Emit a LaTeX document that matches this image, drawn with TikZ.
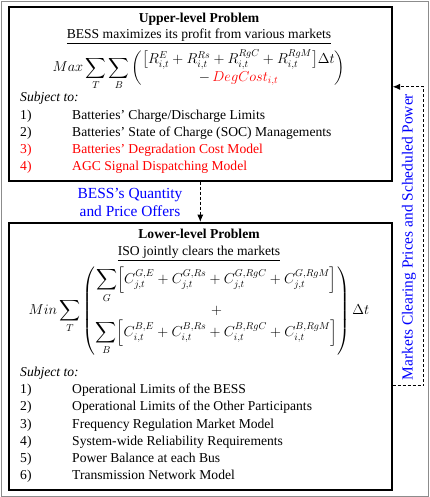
\documentclass[tikz,border=0pt]{standalone}
\usepackage{amsmath,amssymb}
\usepackage{xcolor}
\usepackage{fontspec}
\setmainfont{Liberation Serif}
\usepackage{tikz}
\usetikzlibrary{arrows.meta,positioning}
\definecolor{OfferBlue}{HTML}{0000FF}
\definecolor{DegRed}{HTML}{FF0000}
\definecolor{FrameGray}{HTML}{8C8C8C}

\begin{document}
\begin{tikzpicture}[
  x=1pt, y=-1pt,
  every node/.style={font=\fontsize{13.6}{17.2}\selectfont, inner sep=0pt},
  level/.style={draw=black, line width=1.6pt, minimum width=383pt, anchor=north west},
  title/.style={font=\fontsize{13.6}{17.2}\selectfont\bfseries, anchor=base},
  sub/.style={anchor=base},
  list/.style={anchor=base west, align=left},
  offer/.style={text=OfferBlue, align=center, font=\fontsize{15.4}{18}\selectfont},
  arrow/.style={-{Latex[length=2.6mm,width=2.2mm]}, line width=1.1pt, dash pattern=on 3pt off 2pt}
]
\useasboundingbox (0,0) rectangle (429,497);
\draw[FrameGray, line width=0.8pt] (1,1) rectangle (428,496);

\node[level, minimum height=174pt] (upper) at (8,6) {};
\node[level, minimum height=267pt] (lower) at (8,222) {};

% upper-level problem
\node[title] (uppertitle) at (199,22.5) {Upper-level Problem};
\node[sub] (uppersub) at (199,38.5) {\underline{BESS maximizes its profit from various markets}};
\node[font=\fontsize{14.3}{17}\selectfont] (upperobj) at (199,70) {$\displaystyle Max\sum_{T}\sum_{B}\left(\begin{array}{@{}c@{}}
  \bigl[R^{E}_{i,t}+R^{Rs}_{i,t}+R^{RgC}_{i,t}+R^{RgM}_{i,t}\bigr]\Delta t\\
  -\,\textcolor{DegRed}{DegCost_{i,t}}\end{array}\right)$};
\node[list] (upperlist) at (20,102) {\begin{tabular}[t]{@{}p{52pt}@{}l@{}}
  \multicolumn{2}{@{}l@{}}{\textit{Subject to:}}\\
  1) & Batteries' Charge/Discharge Limits\\
  2) & Batteries' State of Charge (SOC) Managements\\
  \textcolor{DegRed}{3)} & \textcolor{DegRed}{Batteries' Degradation Cost Model}\\
  \textcolor{DegRed}{4)} & \textcolor{DegRed}{AGC Signal Dispatching Model}
\end{tabular}};

% lower-level problem
\node[title] (lowertitle) at (199,238.5) {Lower-level Problem};
\node[sub] (lowersub) at (199,255) {\underline{ISO jointly clears the markets}};
\node[font=\fontsize{14.6}{17}\selectfont] (lowerobj) at (199,311) {$\displaystyle Min\sum_{T}\left(\begin{array}{@{}c@{}}
  \displaystyle\sum_{G}\Bigl[C^{G,E}_{j,t}+C^{G,Rs}_{j,t}+C^{G,RgC}_{j,t}+C^{G,RgM}_{j,t}\Bigr]\\
  +\\
  \displaystyle\sum_{B}\Bigl[C^{B,E}_{i,t}+C^{B,Rs}_{i,t}+C^{B,RgC}_{i,t}+C^{B,RgM}_{i,t}\Bigr]\end{array}\right)\Delta t$};
\node[list] (lowerlist) at (20,376.5) {\begin{tabular}[t]{@{}p{52pt}@{}l@{}}
  \multicolumn{2}{@{}l@{}}{\textit{Subject to:}}\\
  1) & Operational Limits of the BESS\\
  2) & Operational Limits of the Other Participants\\
  3) & Frequency Regulation Market Model\\
  4) & System-wide Reliability Requirements\\
  5) & Power Balance at each Bus\\
  6) & Transmission Network Model
\end{tabular}};

% exchanges between levels
\node[offer] (offers) at (130,202) {BESS's Quantity\\and Price Offers};
\node[offer, rotate=90] (prices) at (409,237) {Markets Clearing Prices and Scheduled Power};
\draw[arrow] (upper) -- (lower);
\draw[arrow] ([yshift=-29.5pt]lower.east) -- ++(31,0) |- ([yshift=7pt]upper.east);
\end{tikzpicture}
\end{document}
